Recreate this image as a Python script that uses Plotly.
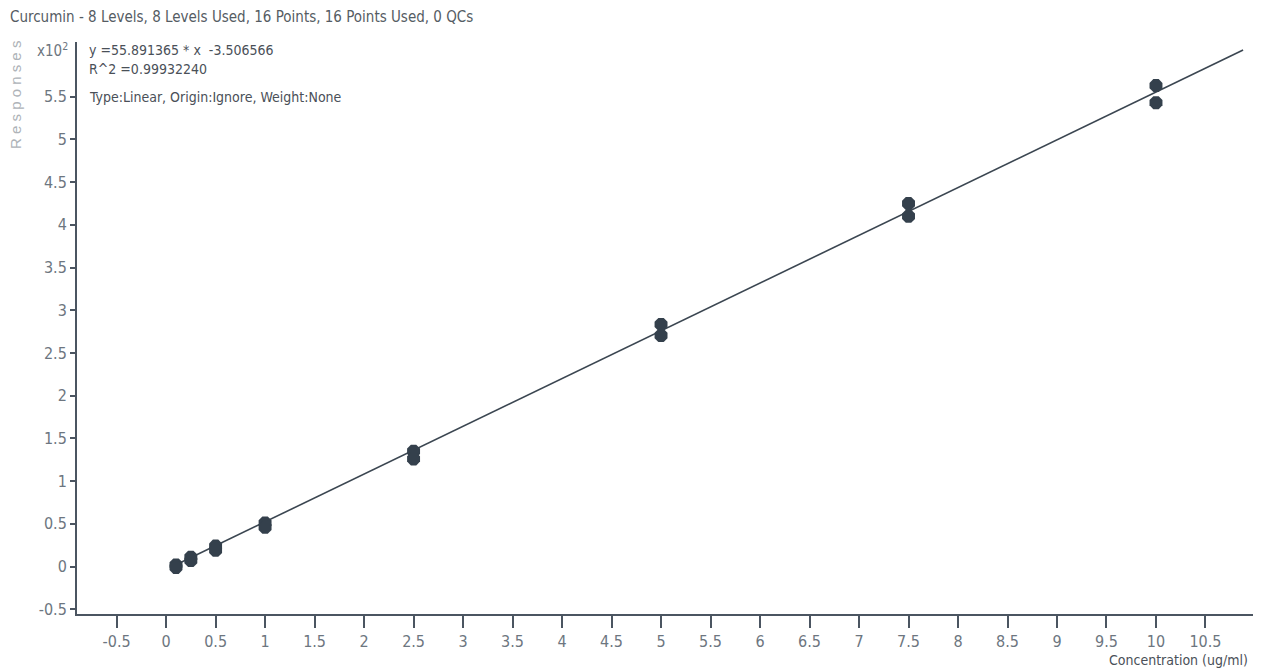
import plotly.graph_objects as go

# ---- data (responses in units of x10^2) ----
concentration = [0.1, 0.1, 0.25, 0.25, 0.5, 0.5, 1, 1, 2.5, 2.5, 5, 5, 7.5, 7.5, 10, 10]
response_x100 = [0.02, -0.01, 0.11, 0.07, 0.24, 0.19, 0.51, 0.46, 1.35, 1.26,
                 2.835, 2.705, 4.25, 4.10, 5.63, 5.43]

slope = 55.891365
intercept = -3.506566
fit_x = [0.1, 10.88]
fit_y = [(slope * x + intercept) / 100 for x in fit_x]

x_tickvals = [-0.5, 0, 0.5, 1, 1.5, 2, 2.5, 3, 3.5, 4, 4.5, 5, 5.5, 6, 6.5, 7, 7.5,
              8, 8.5, 9, 9.5, 10, 10.5]
x_ticktext = ["-0.5", "0", "0.5", "1", "1.5", "2", "2.5", "3", "3.5", "4", "4.5", "5",
              "5.5", "6", "6.5", "7", "7.5", "8", "8.5", "9", "9.5", "10", "10.5"]
y_tickvals = [-0.5, 0, 0.5, 1, 1.5, 2, 2.5, 3, 3.5, 4, 4.5, 5, 5.5]
y_ticktext = ["-0.5", "0", "0.5", "1", "1.5", "2", "2.5", "3", "3.5", "4", "4.5", "5", "5.5"]

title_text = "Curcumin - 8 Levels, 8 Levels Used, 16 Points, 16 Points Used, 0 QCs"
eq_lines = ["y =55.891365 * x &nbsp;-3.506566", "R^2 =0.99932240",
            "Type:Linear, Origin:Ignore, Weight:None"]

NARROW = "DejaVu Sans Condensed, Liberation Sans Narrow, sans-serif"
AXIS = "#4b5561"
DARK = "#34404c"

fig = go.Figure()
fig.add_trace(go.Scatter(x=fit_x, y=fit_y, mode="lines",
                         line=dict(color="#3b4651", width=1.6),
                         hoverinfo="skip", showlegend=False))
fig.add_trace(go.Scatter(x=concentration, y=response_x100, mode="markers",
                         marker=dict(color=DARK, size=14, symbol="octagon",
                                     line=dict(width=0)),
                         showlegend=False))

W, H = 1262, 671
L, R, T, B = 77, 9, 42, 57
pw, ph = W - L - R, H - T - B


def px(xp):
    return (xp - L) / pw


def py(yp):
    return (H - B - yp) / ph


ann = []
ann.append(dict(text=title_text, x=px(8), y=py(17), xanchor="left", yanchor="middle",
                font=dict(family=NARROW, size=15, color="#555c63")))
ann.append(dict(text="x10<sup>2</sup>", x=px(35), y=py(50), xanchor="left", yanchor="middle",
                font=dict(family=NARROW, size=15, color="#6d7680")))
ann.append(dict(text="R e s p o n s e s", x=px(15), y=py(95), xanchor="center",
                yanchor="middle", textangle=-90,
                font=dict(family="Liberation Sans, Arial, sans-serif", size=15,
                          color="#aeb3b8")))
for txt, yy in zip(eq_lines, [50, 69, 97]):
    ann.append(dict(text=txt, x=px(87), y=py(yy), xanchor="left", yanchor="middle",
                    font=dict(family=NARROW, size=14, color="#4a5058")))
ann.append(dict(text="Concentration (ug/ml)", x=px(1250), y=py(660), xanchor="right",
                yanchor="middle", font=dict(family=NARROW, size=14, color="#4a5058")))
for a in ann:
    a.update(xref="paper", yref="paper", showarrow=False)

fig.update_layout(
    width=W, height=H,
    margin=dict(l=L, r=R, t=T, b=B, pad=0),
    paper_bgcolor="white", plot_bgcolor="white",
    annotations=ann,
    xaxis=dict(range=[-0.9, 10.98], tickvals=x_tickvals, ticktext=x_ticktext,
               showgrid=False, zeroline=False, showline=True, linecolor=AXIS,
               linewidth=2, ticks="outside", ticklen=12, tickwidth=2, tickcolor=AXIS,
               tickfont=dict(family=NARROW, size=16, color="#6d7680")),
    yaxis=dict(range=[-0.555, 6.14], tickvals=y_tickvals, ticktext=y_ticktext,
               showgrid=False, zeroline=False, showline=True, linecolor=AXIS,
               linewidth=2, ticks="outside", ticklen=5, tickwidth=2, tickcolor=AXIS,
               tickfont=dict(family=NARROW, size=16, color="#6d7680")),
)

fig.write_html("out.html", config={"displayModeBar": False},
               post_script="document.body.style.margin='0';")
